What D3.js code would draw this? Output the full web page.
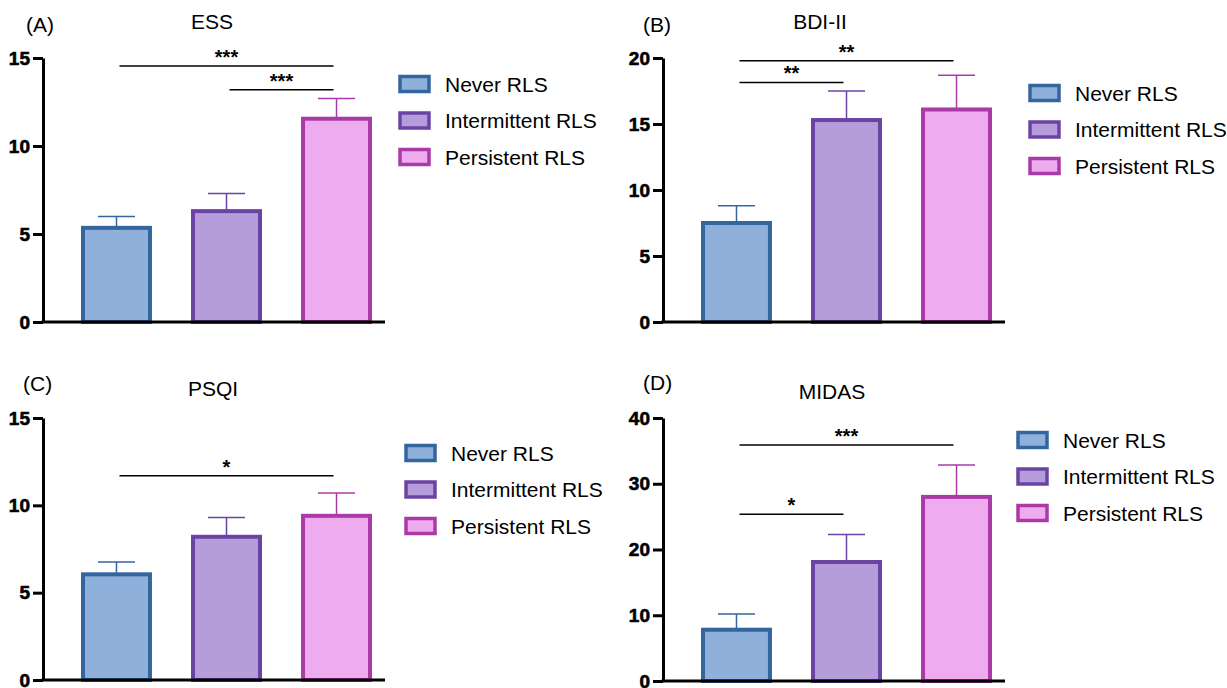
<!DOCTYPE html>
<html lang="en">
  <head>
    <meta charset="UTF-8" />
    <title>RLS groups: ESS, BDI-II, PSQI, MIDAS</title>
    <script src="https://d3js.org/d3.v7.min.js"></script>
    <style>
      body { margin: 0; background: #fff; }
      svg { font-family: "Liberation Sans", Arial, sans-serif; }
    </style>
  </head>
  <body>
    <svg id="fig" width="1227" height="688"></svg>

    <script>
      // groups / legend entries
      const groups = ["Never RLS", "Intermittent RLS", "Persistent RLS"];

      // mean and SEM per panel
      const essMean = [5.35, 6.3, 11.55];
      const essSem = [0.65, 1.0, 1.15];
      const bdiMean = [7.5, 15.3, 16.1];
      const bdiSem = [1.3, 2.2, 2.6];
      const psqiMean = [6.05, 8.2, 9.4];
      const psqiSem = [0.7, 1.1, 1.3];
      const midasMean = [7.8, 18.1, 28.0];
      const midasSem = [2.4, 4.2, 4.85];

      // significance brackets: group indices, height in data units, label
      const essSig = [
        { from: 0, to: 2, y: 14.55, label: "***" },
        { from: 1, to: 2, y: 13.2, label: "***" },
      ];
      const bdiSig = [
        { from: 0, to: 2, y: 19.8, label: "**" },
        { from: 0, to: 1, y: 18.15, label: "**" },
      ];
      const psqiSig = [{ from: 0, to: 2, y: 11.7, label: "*" }];
      const midasSig = [
        { from: 0, to: 2, y: 35.9, label: "***" },
        { from: 0, to: 1, y: 25.35, label: "*" },
      ];

      // y tick values
      const essTicks = [0, 5, 10, 15];
      const bdiTicks = [0, 5, 10, 15, 20];
      const psqiTicks = [0, 5, 10, 15];
      const midasTicks = [0, 10, 20, 30, 40];

      const fills = ["#8fb0da", "#b49dda", "#eeabee"];
      const strokes = ["#33659f", "#6b44a3", "#aa3aa8"];

      const panels = [
        { tag: "(A)", title: "ESS", mean: essMean, sem: essSem, sig: essSig, ticks: essTicks,
          x: 43, y: 58, h: 264, titleX: 169, titleY: -29, tagX: -17, tagY: -26, legX: 355, legY: 26 },
        { tag: "(B)", title: "BDI-II", mean: bdiMean, sem: bdiSem, sig: bdiSig, ticks: bdiTicks,
          x: 663, y: 58, h: 264, titleX: 157, titleY: -29, tagX: -20, tagY: -26, legX: 365, legY: 35 },
        { tag: "(C)", title: "PSQI", mean: psqiMean, sem: psqiSem, sig: psqiSig, ticks: psqiTicks,
          x: 43, y: 418, h: 262, titleX: 170, titleY: -22, tagX: -20, tagY: -27, legX: 361, legY: 35 },
        { tag: "(D)", title: "MIDAS", mean: midasMean, sem: midasSem, sig: midasSig, ticks: midasTicks,
          x: 663, y: 418, h: 263, titleX: 169, titleY: -19, tagX: -20, tagY: -28, legX: 353, legY: 22 },
      ];

      const svg = d3.select("#fig");
      const axisLen = 342;

      const x = d3.scaleBand()
        .domain(d3.range(groups.length))
        .range([38, 329])
        .paddingInner(0.355)
        .paddingOuter(0);

      panels.forEach((p) => {
        const g = svg.append("g").attr("transform", `translate(${p.x},${p.y})`);
        const y = d3.scaleLinear()
          .domain([0, d3.max(p.ticks)])
          .range([p.h, 0]);

        // panel tag and title
        g.append("text")
          .attr("x", p.tagX)
          .attr("y", p.tagY)
          .attr("font-size", 21)
          .text(p.tag);
        g.append("text")
          .attr("x", p.titleX)
          .attr("y", p.titleY)
          .attr("text-anchor", "middle")
          .attr("font-size", 21)
          .text(p.title);

        // error bars (upper only), drawn under the bars
        const err = g.append("g");
        p.mean.forEach((m, i) => {
          const cx = x(i) + x.bandwidth() / 2;
          const top = y(m + p.sem[i]);
          err.append("line")
            .attr("x1", cx).attr("x2", cx)
            .attr("y1", y(m)).attr("y2", top)
            .attr("stroke", strokes[i]).attr("stroke-width", 1.5);
          err.append("line")
            .attr("x1", cx - 18.5).attr("x2", cx + 18.5)
            .attr("y1", top).attr("y2", top)
            .attr("stroke", strokes[i]).attr("stroke-width", 1.5);
        });

        // bars
        g.selectAll(".bar")
          .data(p.mean)
          .enter()
          .append("rect")
          .attr("class", "bar")
          .attr("x", (d, i) => x(i) + 2)
          .attr("width", x.bandwidth() - 4)
          .attr("y", (d) => y(d))
          .attr("height", (d) => y(0) - y(d))
          .attr("fill", (d, i) => fills[i])
          .attr("stroke", (d, i) => strokes[i])
          .attr("stroke-width", 4);

        // y axis
        const ax = g.append("g")
          .call(d3.axisLeft(y).tickValues(p.ticks).tickSize(10).tickSizeOuter(0).tickPadding(3));
        ax.select(".domain").attr("stroke", "#000").attr("stroke-width", 3);
        ax.selectAll(".tick line").attr("stroke", "#000").attr("stroke-width", 3);
        ax.selectAll(".tick text")
          .style("font-family", "'Liberation Sans', Arial, sans-serif")
          .style("font-size", "19px")
          .style("font-weight", "bold")
          .style("fill", "#000")
          .style("stroke", "#000")
          .style("stroke-width", "0.6px");

        // x axis baseline
        g.append("line")
          .attr("x1", -1.5).attr("x2", axisLen)
          .attr("y1", y(0)).attr("y2", y(0))
          .attr("stroke", "#000").attr("stroke-width", 3);

        // significance brackets
        p.sig.forEach((s) => {
          const x1 = x(s.from) + x.bandwidth() / 2 + 3;
          const x2 = x(s.to) + x.bandwidth() / 2 - 3;
          g.append("line")
            .attr("x1", x1).attr("x2", x2)
            .attr("y1", y(s.y)).attr("y2", y(s.y))
            .attr("stroke", "#000").attr("stroke-width", 1.5);
          g.append("text")
            .attr("x", (x1 + x2) / 2)
            .attr("y", y(s.y) - 2)
            .attr("text-anchor", "middle")
            .attr("font-size", 20)
            .attr("font-weight", "bold")
            .text(s.label);
        });

        // legend
        const leg = g.append("g").attr("transform", `translate(${p.legX},${p.legY})`);
        groups.forEach((name, i) => {
          const row = leg.append("g").attr("transform", `translate(0,${i * 36.5})`);
          row.append("rect")
            .attr("x", 2).attr("y", -7.5)
            .attr("width", 29).attr("height", 15)
            .attr("fill", fills[i])
            .attr("stroke", strokes[i])
            .attr("stroke-width", 3.5);
          row.append("text")
            .attr("x", 47)
            .attr("y", 7.5)
            .attr("font-size", 21)
            .text(name);
        });
      });
    </script>
  </body>
</html>
